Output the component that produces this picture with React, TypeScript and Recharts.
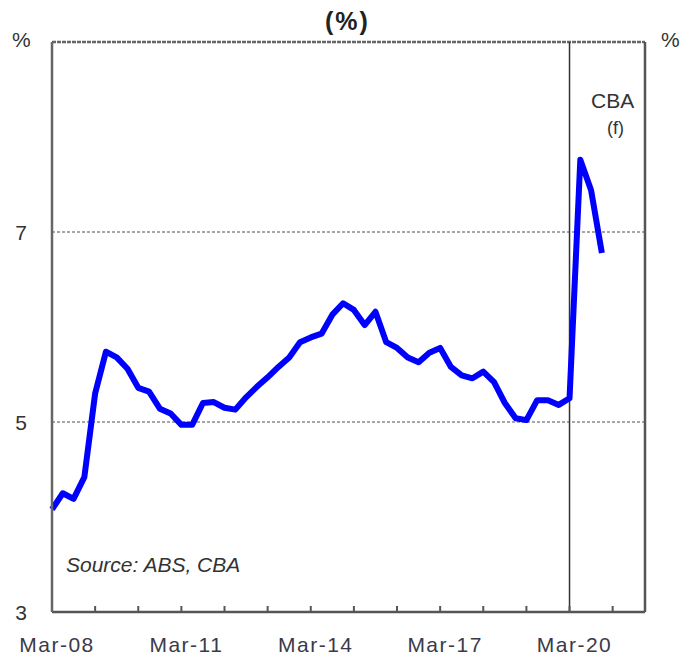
import { CartesianGrid, Line, LineChart, ReferenceLine, XAxis, YAxis } from 'recharts';

// quarterly, Mar-08 .. Dec-20 (last 3 are CBA forecasts)
const rates = [
  4.08, 4.25, 4.19, 4.42, 5.3, 5.74, 5.68, 5.56, 5.36, 5.32, 5.14, 5.09, 4.97, 4.97,
  5.2, 5.21, 5.15, 5.13, 5.26, 5.37, 5.47, 5.58, 5.68, 5.84, 5.89, 5.93, 6.13, 6.25,
  6.18, 6.02, 6.16, 5.84, 5.78, 5.68, 5.63, 5.73, 5.78, 5.58, 5.49, 5.46, 5.53, 5.42,
  5.2, 5.04, 5.02, 5.23, 5.23, 5.18, 5.25, 7.76, 7.44, 6.78,
];
const tickLabels = ['Mar-08', 'Mar-11', 'Mar-14', 'Mar-17', 'Mar-20'];
const yearTicks = [0, 4, 8, 12, 16, 20, 24, 28, 32, 36, 40, 44, 48, 52];
const yTicks = [3, 5, 7, 9];
const forecastStart = 48;

const data = rates.map((v, i) => ({ q: i, rate: v }));

const font = 'Arial, "Liberation Sans", sans-serif';

const XTick = (props: any) => {
  const { x, payload } = props;
  const i = yearTicks.indexOf(payload.value);
  const label = i % 3 === 0 ? tickLabels[i / 3] : '';
  return (
    <g>
      {payload.value !== 0 && <line x1={x} x2={x} y1={612} y2={606} stroke="#555" strokeWidth={2} />}
      <text
        x={x + 5}
        y={652}
        textAnchor="middle"
        fontSize={21}
        letterSpacing={1.5}
        fill="#3a3a4a"
        fontFamily={font}
      >
        {label}
      </text>
    </g>
  );
};

const YTick = (side: 'left' | 'right') => (props: any) => {
  const { y, payload } = props;
  if (payload.value === 9) return <g />;
  return (
    <text
      x={side === 'left' ? 21 : 674}
      y={y + 8}
      textAnchor="middle"
      fontSize={21}
      fill="#333"
      fontFamily={font}
    >
      {payload.value}
    </text>
  );
};

const text = (left: number, top: number, s: string, extra: any = {}) => (
  <div
    style={{
      position: 'absolute',
      left,
      top,
      fontFamily: font,
      fontSize: 21,
      lineHeight: '21px',
      color: '#333',
      whiteSpace: 'nowrap',
      ...extra,
    }}
  >
    {s}
  </div>
);

export default function App() {
  return (
    <div style={{ position: 'fixed', left: 0, top: 0, width: 699, height: 660, background: '#fff' }}>
      <LineChart width={699} height={660} data={data} margin={{ top: 42, right: 0, bottom: 0, left: 0 }}>
        <CartesianGrid
          vertical={false}
          stroke="#8a8a8a"
          strokeWidth={1.5}
          strokeDasharray="3 2"
          horizontalValues={[5, 7]}
          yAxisId="l"
        />
        <ReferenceLine yAxisId="l" y={9} stroke="#666" strokeWidth={2.5} strokeDasharray="4 1" />
        <XAxis
          dataKey="q"
          type="number"
          domain={[0, 55]}
          ticks={yearTicks}
          interval={0}
          height={48}
          tickLine={false}
          tickSize={0}
          axisLine={{ stroke: '#555', strokeWidth: 2.5 }}
          tick={<XTick />}
        />
        <YAxis
          yAxisId="l"
          domain={[3, 9]}
          ticks={yTicks}
          width={52}
          tickLine={false}
          axisLine={{ stroke: '#666', strokeWidth: 2.5 }}
          tick={YTick('left')}
        />
        <YAxis
          yAxisId="r"
          orientation="right"
          domain={[3, 9]}
          ticks={yTicks}
          width={54}
          tickLine={false}
          axisLine={{ stroke: '#555', strokeWidth: 2.5 }}
          tick={YTick('right')}
        />
        <ReferenceLine yAxisId="l" x={forecastStart} stroke="#333" strokeWidth={1.5} />
        <Line
          yAxisId="l"
          dataKey="rate"
          stroke="#0000FF"
          strokeWidth={6}
          dot={false}
          strokeLinejoin="round"
          isAnimationActive={false}
        />
      </LineChart>
      {text(325, 9, '(%)', { fontWeight: 'bold', fontSize: 25, lineHeight: '25px', letterSpacing: 2, color: '#222' })}
      {text(12, 29, '%')}
      {text(661, 29, '%')}
      {text(66, 554, 'Source: ABS, CBA', { fontStyle: 'italic' })}
      {text(591, 90, 'CBA')}
      {text(607, 118, '(f)', { fontSize: 18 })}
    </div>
  );
}
